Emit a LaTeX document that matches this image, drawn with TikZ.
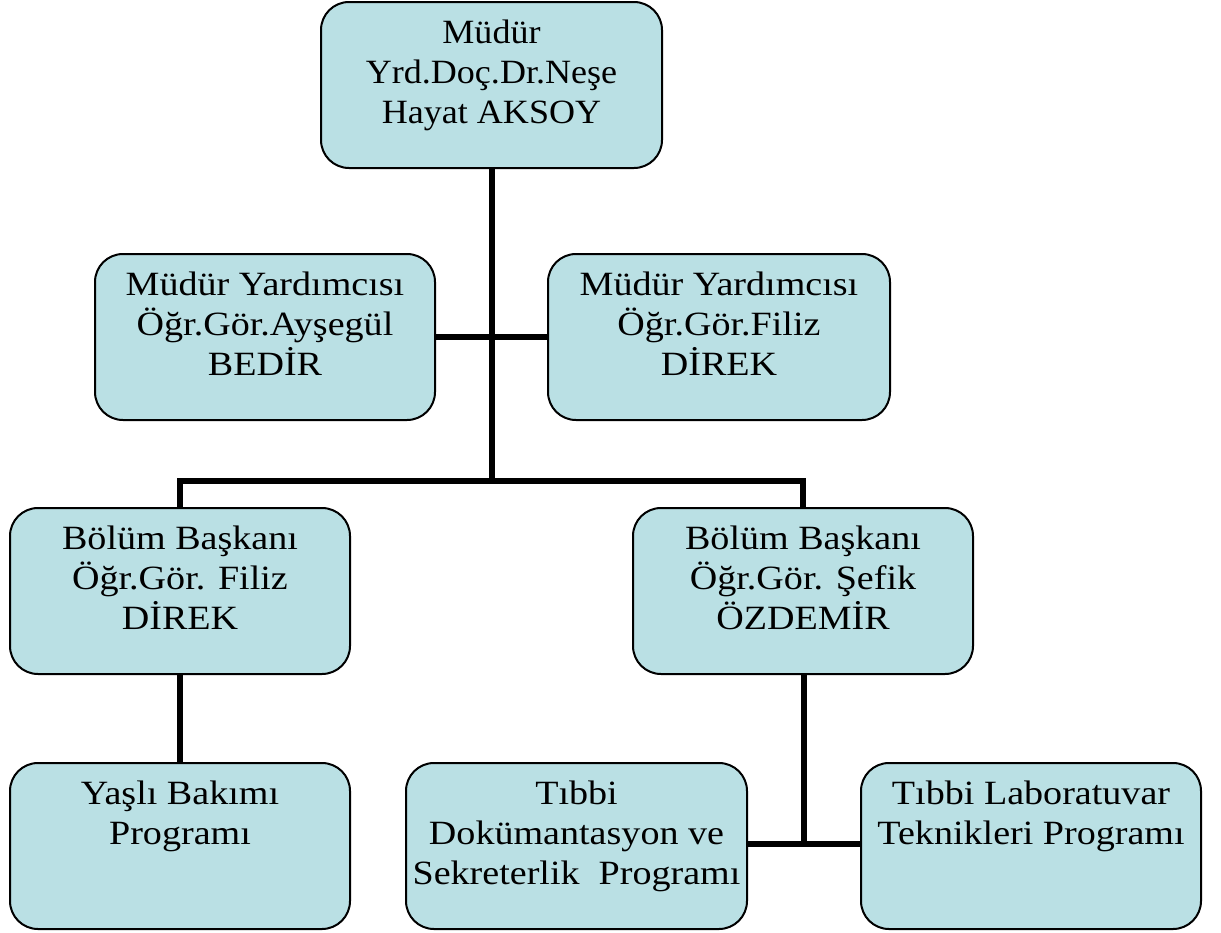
\documentclass[tikz,border=0pt]{standalone}
\usepackage{fontspec}
\setmainfont{Liberation Serif}
\newfontfamily\boxfont[FakeStretch=1.12]{Liberation Serif}
\newfontfamily\topfont[FakeStretch=1.06]{Liberation Serif}
\definecolor{boxfill}{RGB}{186,224,228}
\begin{document}
\begin{tikzpicture}[x=1pt,y=-1pt,
  orgbox/.style={draw=black,line width=2pt,fill=boxfill,rounded corners=28pt,minimum width=#1,minimum height=166pt,inner sep=0pt},
  orgbox/.default=340pt,
  lbl/.style={inner sep=0pt,align=center,font=\boxfont\fontsize{34pt}{40pt}\selectfont,anchor=base},
  toplbl/.style={lbl,font=\topfont\fontsize{34pt}{40pt}\selectfont},
  conn/.style={line width=6pt}]
\useasboundingbox (0,0) rectangle (1221,932);
% boxes
\node[orgbox=341pt] (top) at (491.5,85) {};
\node[orgbox] (mL) at (265,337) {};
\node[orgbox=342pt] (mR) at (719,337) {};
\node[orgbox] (bL) at (180,591) {};
\node[orgbox] (bR) at (803,591) {};
\node[orgbox] (yas) at (180,846) {};
\node[orgbox=341pt] (dok) at (576.5,846) {};
\node[orgbox] (lab) at (1031,846) {};
% connectors
\coordinate (j1) at (492,481);
\coordinate (j2) at (804,844);
\draw[conn] (top.south -| j1) -- (j1);
\draw[conn] (mL.east) -- (mR.west);
\draw[conn] (bL.north) |- (j1) -| (bR.north);
\draw[conn] (bL.south) -- (yas.north);
\draw[conn] (bR.south -| j2) -- (j2);
\draw[conn] (dok.east |- j2) -- (lab.west |- j2);
% labels (base anchor = baseline of last line)
\node[toplbl] (ttop) at ([yshift=-122pt]top.north) {Müdür\\Yrd.Doç.Dr.Neşe\\Hayat AKSOY};
\node[lbl] (tmL) at ([yshift=-122pt]mL.north) {Müdür Yardımcısı\\Öğr.Gör.Ayşegül\\BEDİR};
\node[lbl] (tmR) at ([yshift=-122pt]mR.north) {Müdür Yardımcısı\\Öğr.Gör.Filiz\\DİREK};
\node[lbl] (tbL) at ([yshift=-122pt]bL.north) {Bölüm Başkanı\\Öğr.Gör. Filiz\\DİREK};
\node[lbl] (tbR) at ([yshift=-122pt]bR.north) {Bölüm Başkanı\\Öğr.Gör. Şefik\\ÖZDEMİR};
\node[lbl] (tyas) at ([yshift=-82pt]yas.north) {Yaşlı Bakımı\\Programı};
\node[lbl] (tdok) at ([yshift=-122pt]dok.north) {Tıbbi\\Dokümantasyon ve\\Sekreterlik\ \ Programı};
\node[lbl] (tlab) at ([yshift=-82pt]lab.north) {Tıbbi Laboratuvar\\Teknikleri Programı};
\end{tikzpicture}
\end{document}
